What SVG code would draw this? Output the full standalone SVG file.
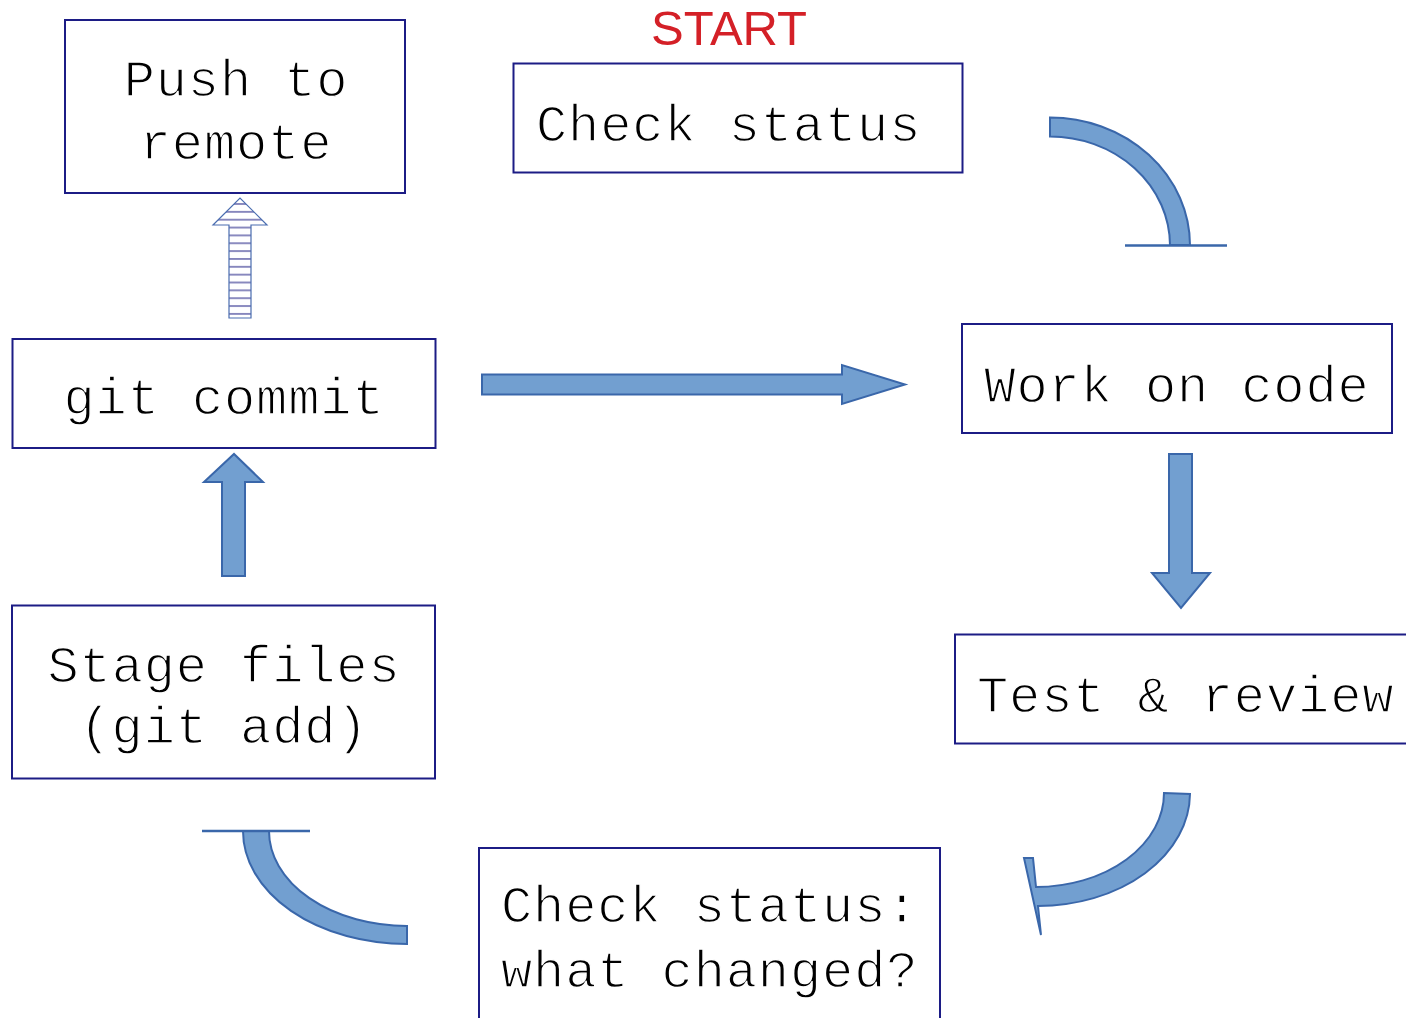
<svg xmlns="http://www.w3.org/2000/svg" width="1406" height="1018" viewBox="0 0 1406 1018">
  <style>
    .box { fill: #ffffff; stroke: #1c1c85; stroke-width: 2; }
    .label { font-family: "Liberation Mono", "Courier New", monospace; font-size: 52px; letter-spacing: 0.9px; fill: #000000; stroke: #ffffff; stroke-width: 1.4px; paint-order: normal; }
    .mid { text-anchor: middle; }
    .flow { fill: #729fd0; stroke: #3a67aa; stroke-width: 2; stroke-linejoin: miter; }
    .edge { stroke: #3a67aa; stroke-width: 2.5; fill: none; }
    .start { font-family: "Liberation Sans", Arial, sans-serif; font-size: 49px; fill: #d42027; text-anchor: middle; }
  </style>
  <defs>
    <!-- horizontal hatching used by the push arrow -->
    <pattern id="hatch" patternUnits="userSpaceOnUse" x="0" y="200.1" width="20" height="7.85">
      <line x1="0" y1="3.9" x2="20" y2="3.9" stroke="#2e2e8c" stroke-width="1.3" stroke-opacity="0.85"/>
    </pattern>
  </defs>
  <rect width="1406" height="1018" fill="#ffffff"/>

  <text class="start" x="729" y="45">START</text>

  <!-- nodes -->
  <g id="push-remote">
    <rect class="box" x="65" y="20" width="340" height="173"/>
    <text class="label mid" x="236" y="96">Push to</text>
    <text class="label mid" x="236" y="159">remote</text>
  </g>
  <g id="check-status">
    <rect class="box" x="513.5" y="63.5" width="449" height="109"/>
    <text class="label" x="536" y="141">Check status</text>
  </g>
  <g id="work-on-code">
    <rect class="box" x="962" y="324" width="430" height="109"/>
    <text class="label mid" x="1177" y="402">Work on code</text>
  </g>
  <g id="test-review">
    <rect class="box" x="955" y="634.5" width="460" height="109"/>
    <text class="label" x="977" y="712">Test &amp; review</text>
  </g>
  <g id="check-changes">
    <rect class="box" x="479" y="848" width="461" height="190"/>
    <text class="label" x="501" y="922">Check status:</text>
    <text class="label" x="501" y="987">what changed?</text>
  </g>
  <g id="stage-files">
    <rect class="box" x="12" y="605.5" width="423" height="173"/>
    <text class="label mid" x="224" y="682">Stage files</text>
    <text class="label mid" x="224" y="743">(git add)</text>
  </g>
  <g id="git-commit">
    <rect class="box" x="12.5" y="339" width="423" height="109"/>
    <text class="label mid" x="224" y="414">git commit</text>
  </g>

  <!-- connectors -->
  <g id="connectors">
    <!-- check status -> work on code (curved, head seen edge-on) -->
    <path class="flow" d="M1050,117.5 A140,128 0 0 1 1190,245 L1170,245 A120,109 0 0 0 1050,136.5 Z"/>
    <line class="edge" x1="1125" y1="245.5" x2="1227" y2="245.5"/>

    <!-- work on code -> test & review -->
    <polygon class="flow" points="1169,454 1192,454 1192,573 1210,573 1181,608 1152,573 1169,573"/>

    <!-- test & review -> check status: what changed? -->
    <path class="flow" d="M1164,793 L1190,794 A152,113 0 0 1 1038,906 L1041,935 L1024,858 L1033,858 L1036,887 A128,94 0 0 0 1164,793 Z"/>

    <!-- what changed? -> stage files -->
    <path class="flow" d="M243,831 A164,113 0 0 0 407,944 L407,926 A138,95 0 0 1 269,831 Z"/>
    <line class="edge" x1="202" y1="831" x2="310" y2="831"/>

    <!-- stage files -> git commit -->
    <polygon class="flow" points="222,576 245,576 245,482 263,482 234,454 204,482 222,482"/>

    <!-- git commit -> work on code -->
    <polygon class="flow" points="482,374.5 842,374.5 842,365 905,384.5 842,404 842,394.5 482,394.5"/>

    <!-- git commit -> push to remote (hatched) -->
    <polygon points="229,318 251,318 251,225 267,225 240,198 213,225 229,225" fill="url(#hatch)" stroke="#4a6db0" stroke-width="1.2"/>
  </g>
</svg>
